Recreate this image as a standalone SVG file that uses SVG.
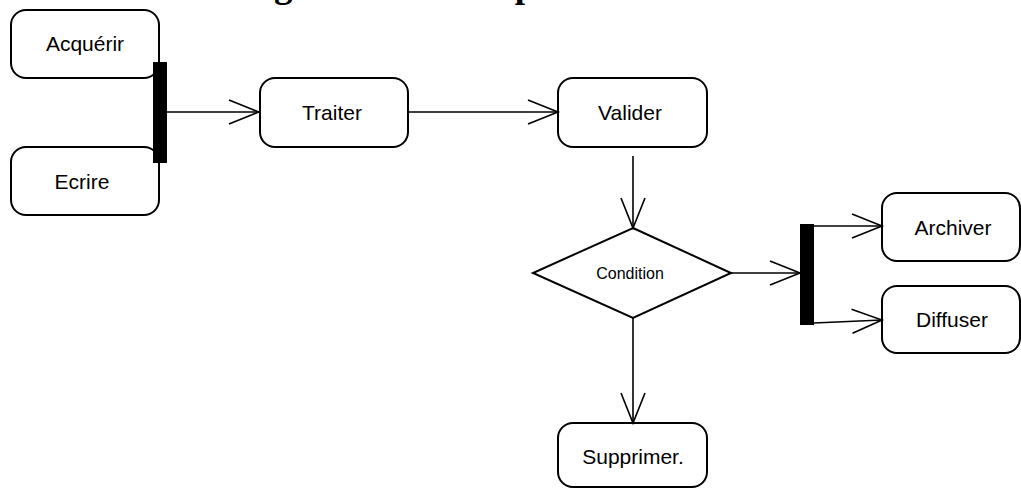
<svg xmlns="http://www.w3.org/2000/svg" width="1021" height="488" viewBox="0 0 1021 488">
  <style>
    .box { fill: #ffffff; stroke: #000000; stroke-width: 2; }
    .bar { fill: #000000; stroke: none; }
    .lbl { font-family: "Liberation Sans", Arial, sans-serif; font-size: 21px; fill: #000000; text-anchor: middle; }
    .small { font-size: 16px; }
    .title { font-family: "Liberation Serif", "Times New Roman", serif; font-size: 37px; font-weight: bold; fill: #000000; }
    .conn { fill: none; stroke: #000000; stroke-width: 1.6; }
  </style>
  <defs>
    <marker id="open" markerUnits="userSpaceOnUse" markerWidth="34" markerHeight="28" refX="31" refY="13" orient="auto" overflow="visible">
      <path d="M1 1 L31 13 L1 25" fill="none" stroke="#000000" stroke-width="1.6"/>
    </marker>
  </defs>

  <rect width="1021" height="488" fill="#ffffff"/>

  <!-- caption, clipped by the top edge -->
  <text class="title" x="241" y="-3">Figure : Un exemple de workflow documentaire</text>

  <!-- activities -->
  <g id="acquerir">
    <rect class="box" x="11" y="10" width="148" height="68" rx="15"/>
    <text class="lbl" x="85" y="51">Acquérir</text>
  </g>
  <g id="ecrire">
    <rect class="box" x="11" y="147" width="148" height="68" rx="15"/>
    <text class="lbl" x="82" y="189">Ecrire</text>
  </g>
  <g id="join">
    <rect class="bar" x="153" y="62" width="14" height="101"/>
  </g>
  <g id="traiter">
    <rect class="box" x="260" y="78" width="148" height="69" rx="15"/>
    <text class="lbl" x="332" y="120">Traiter</text>
  </g>
  <g id="valider">
    <rect class="box" x="558" y="78" width="149" height="69" rx="15"/>
    <text class="lbl" x="630" y="120">Valider</text>
  </g>
  <g id="condition">
    <polygon class="box" points="633,228 731,273 633,318 533,273"/>
    <text class="lbl small" x="630" y="279">Condition</text>
  </g>
  <g id="fork">
    <rect class="bar" x="800" y="224" width="14" height="101"/>
  </g>
  <g id="archiver">
    <rect class="box" x="882" y="193" width="138" height="68" rx="15"/>
    <text class="lbl" x="953" y="235">Archiver</text>
  </g>
  <g id="diffuser">
    <rect class="box" x="882" y="286" width="138" height="67" rx="15"/>
    <text class="lbl" x="952" y="327">Diffuser</text>
  </g>
  <g id="supprimer">
    <rect class="box" x="558" y="423" width="149" height="64" rx="15"/>
    <text class="lbl" x="633" y="464">Supprimer.</text>
  </g>

  <!-- transitions -->
  <g id="connectors">
    <path class="conn" d="M167 112 H259" marker-end="url(#open)"/>
    <path class="conn" d="M408 112 H558" marker-end="url(#open)"/>
    <path class="conn" d="M633 156 V228" marker-end="url(#open)"/>
    <path class="conn" d="M731 273 H800" marker-end="url(#open)"/>
    <path class="conn" d="M814 226 H882" marker-end="url(#open)"/>
    <path class="conn" d="M814 323 L882 320" marker-end="url(#open)"/>
    <path class="conn" d="M633 318 V423" marker-end="url(#open)"/>
  </g>
</svg>
